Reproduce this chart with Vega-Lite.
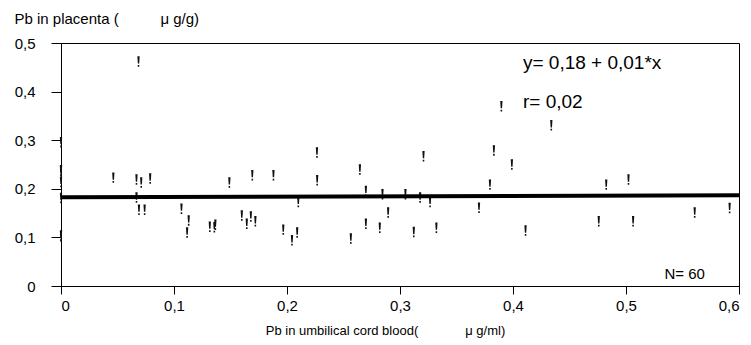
{
  "$schema": "https://vega.github.io/schema/vega-lite/v6.json",
  "width": 678,
  "height": 243,
  "autosize": {"type": "none"},
  "padding": {"left": 61, "top": 43, "right": 12, "bottom": 59},
  "background": "white",
  "config": {
    "view": {"stroke": "#000", "strokeWidth": 1},
    "font": "Liberation Sans",
    "axis": {
      "grid": false,
      "domainColor": "#000",
      "tickColor": "#000",
      "labelColor": "#000",
      "titleColor": "#000",
      "labelFont": "Liberation Sans",
      "titleFont": "Liberation Sans",
      "labelFontSize": 15,
      "titleFontSize": 15,
      "titleFontWeight": "normal"
    }
  },
  "datasets": {
    "pts": [
      {"x": 0, "y": 0.296}, {"x": 0, "y": 0.236}, {"x": 0, "y": 0.214}, {"x": 0, "y": 0.181}, {"x": 0, "y": 0.104},
      {"x": 0, "y": 0.238}, {"x": 0, "y": 0.102},
      {"x": 0.0686, "y": 0.462},
      {"x": 0.0463, "y": 0.223}, {"x": 0.0668, "y": 0.219}, {"x": 0.071, "y": 0.213}, {"x": 0.0789, "y": 0.221},
      {"x": 0.0668, "y": 0.182}, {"x": 0.069, "y": 0.157}, {"x": 0.074, "y": 0.157}, {"x": 0.1066, "y": 0.159},
      {"x": 0.113, "y": 0.135}, {"x": 0.1116, "y": 0.11}, {"x": 0.1317, "y": 0.122}, {"x": 0.1357, "y": 0.121},
      {"x": 0.1366, "y": 0.126}, {"x": 0.149, "y": 0.213}, {"x": 0.16, "y": 0.145}, {"x": 0.1644, "y": 0.128},
      {"x": 0.168, "y": 0.143}, {"x": 0.172, "y": 0.133}, {"x": 0.1693, "y": 0.228}, {"x": 0.188, "y": 0.228},
      {"x": 0.1967, "y": 0.116},
      {"x": 0.2044, "y": 0.094}, {"x": 0.209, "y": 0.11}, {"x": 0.21, "y": 0.173}, {"x": 0.2265, "y": 0.2745},
      {"x": 0.2267, "y": 0.2175}, {"x": 0.2565, "y": 0.0975}, {"x": 0.2645, "y": 0.2395}, {"x": 0.2698, "y": 0.1955},
      {"x": 0.2698, "y": 0.128}, {"x": 0.2821, "y": 0.12}, {"x": 0.2845, "y": 0.1887}, {"x": 0.2895, "y": 0.151},
      {"x": 0.3048, "y": 0.1887}, {"x": 0.3122, "y": 0.111}, {"x": 0.3178, "y": 0.182}, {"x": 0.3208, "y": 0.267},
      {"x": 0.3266, "y": 0.173}, {"x": 0.3322, "y": 0.12}, {"x": 0.3699, "y": 0.161}, {"x": 0.3796, "y": 0.2086},
      {"x": 0.3831, "y": 0.279}, {"x": 0.399, "y": 0.2498}, {"x": 0.4111, "y": 0.114},
      {"x": 0.3897, "y": 0.37}, {"x": 0.4339, "y": 0.3307},
      {"x": 0.4825, "y": 0.2086}, {"x": 0.5022, "y": 0.219}, {"x": 0.4759, "y": 0.133}, {"x": 0.5063, "y": 0.133},
      {"x": 0.5608, "y": 0.151}, {"x": 0.5917, "y": 0.1605}
    ],
    "fit": [{"x": 0, "y": 0.1825}, {"x": 0.6, "y": 0.1866}],
    "eq": [{"x": 0.4088, "y": 0.458, "label": "y= 0,18 + 0,01*x"}, {"x": 0.4088, "y": 0.3786, "label": "r= 0,02"}],
    "n": [{"x": 0.534, "y": 0.0255, "label": "N= 60"}]
  },
  "layer": [
    {
      "data": {"name": "pts"},
      "mark": {
        "type": "point",
        "shape": "M -0.22 -1 L 0.22 -1 L 0.13 0.4 L -0.13 0.4 Z M -0.15 0.66 L 0.15 0.66 L 0.15 1 L -0.15 1 Z",
        "size": 110,
        "filled": true,
        "color": "#111",
        "opacity": 1,
        "strokeWidth": 0
      },
      "encoding": {
        "x": {
          "field": "x", "type": "quantitative",
          "scale": {"domain": [0, 0.6], "nice": false, "zero": false},
          "axis": {
            "values": [0, 0.1, 0.2, 0.3, 0.4, 0.5, 0.6],
            "labelExpr": "datum.value == 0 ? '0' : replace(format(datum.value, '.1f'), '.', ',')",
            "tickSize": 8,
            "labelPadding": 4,
            "title": "Pb in umbilical cord blood(\u00a0\u00a0\u00a0\u00a0\u00a0\u00a0\u00a0\u00a0\u00a0\u00a0\u00a0\u00a0\u00a0μ g/ml)",
            "titleFontSize": 13,
            "titlePadding": 11,
            "titleX": 324,
            "titleAnchor": "middle"
          }
        },
        "y": {
          "field": "y", "type": "quantitative",
          "scale": {"domain": [0, 0.5], "nice": false, "zero": false},
          "axis": {
            "values": [0, 0.1, 0.2, 0.3, 0.4, 0.5],
            "labelExpr": "datum.value == 0 ? '0' : replace(format(datum.value, '.1f'), '.', ',')",
            "tickSize": 10,
            "labelPadding": 16,
            "title": "Pb in placenta (\u00a0\u00a0\u00a0\u00a0\u00a0\u00a0\u00a0\u00a0\u00a0\u00a0μ g/g)",
            "titleAngle": 0,
            "titleAlign": "left",
            "titleBaseline": "middle",
            "titleX": -47,
            "titleY": -25
          }
        }
      }
    },
    {
      "data": {"name": "fit"},
      "mark": {"type": "line", "color": "#000", "strokeWidth": 4},
      "encoding": {
        "x": {"field": "x", "type": "quantitative"},
        "y": {"field": "y", "type": "quantitative"}
      }
    },
    {
      "data": {"name": "eq"},
      "mark": {"type": "text", "align": "left", "baseline": "middle", "fontSize": 19, "color": "#000"},
      "encoding": {
        "x": {"field": "x", "type": "quantitative"},
        "y": {"field": "y", "type": "quantitative"},
        "text": {"field": "label"}
      }
    },
    {
      "data": {"name": "n"},
      "mark": {"type": "text", "align": "left", "baseline": "middle", "fontSize": 15, "color": "#000"},
      "encoding": {
        "x": {"field": "x", "type": "quantitative"},
        "y": {"field": "y", "type": "quantitative"},
        "text": {"field": "label"}
      }
    }
  ]
}
